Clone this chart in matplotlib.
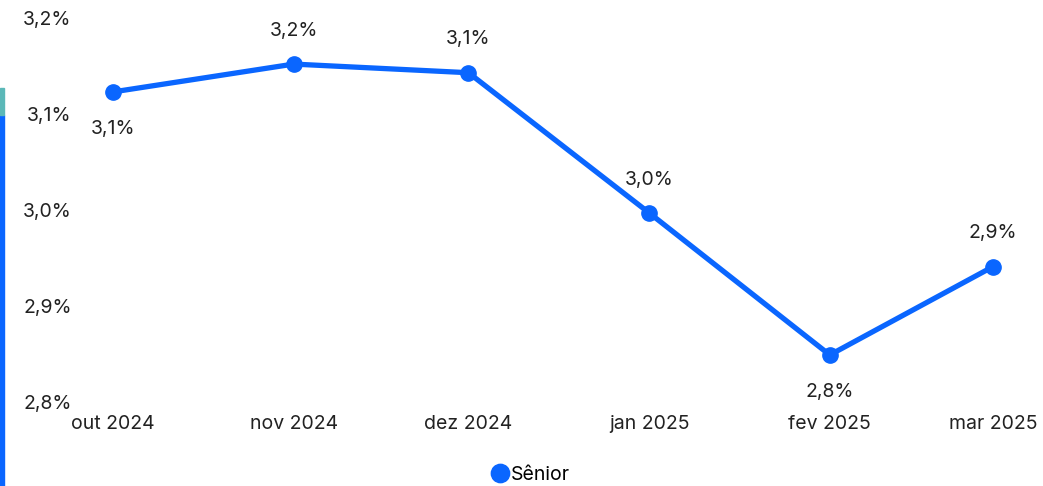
import matplotlib
matplotlib.use('Agg')
import matplotlib.pyplot as plt
import matplotlib.dates as mdates
from matplotlib.patches import Rectangle
from datetime import datetime, timedelta

datas = [datetime(2024, 10, 1), datetime(2024, 11, 1), datetime(2024, 12, 1),
         datetime(2025, 1, 1), datetime(2025, 2, 1), datetime(2025, 3, 1)]
meses = ['out 2024', 'nov 2024', 'dez 2024', 'jan 2025', 'fev 2025', 'mar 2025']
senior = [3.123, 3.152, 3.143, 2.997, 2.849, 2.941]
rotulos = ['3,1%', '3,2%', '3,1%', '3,0%', '2,8%', '2,9%']
acima = [False, True, True, True, False, True]
yticks = [2.8, 2.9, 3.0, 3.1, 3.2]
ylabels = ['2,8%', '2,9%', '3,0%', '3,1%', '3,2%']

plt.rcParams['font.family'] = ['Inter', 'DejaVu Sans']
azul = '#0A66FF'
fs = 14

W, H = 1043, 486
fig = plt.figure(figsize=(W / 100, H / 100), dpi=100)
ax = fig.add_axes([80 / W, (H - 402) / H, 950 / W, 384 / H])

ax.plot(datas, senior, color=azul, lw=3.8, marker='o', ms=11, solid_capstyle='round', label='Sênior', clip_on=False)
for d, v, t, up in zip(datas, senior, rotulos, acima):
    ax.annotate(t, (d, v), xytext=(0, 24 if up else -27), textcoords='offset points',
                ha='center', va='center', fontsize=fs, color='#222222')

ax.set_xlim(datas[0] - timedelta(days=5.66), datas[-1] + timedelta(days=6.35))
ax.set_ylim(2.8, 3.2)
ax.set_xticks(datas)
ax.set_xticklabels(meses, fontsize=fs, color='#222222')
ax.set_yticks(yticks)
ax.set_yticklabels(ylabels, fontsize=fs, color='#222222')
ax.tick_params(length=0, axis='y', pad=6)
ax.tick_params(length=0, axis='x', pad=9)
for s in ax.spines.values():
    s.set_visible(False)

leg = fig.legend(handles=ax.get_lines(), loc='center', bbox_to_anchor=(532 / W, 1 - 475 / H),
                 frameon=False, fontsize=fs, handlelength=0.55, handletextpad=0.3, markerscale=1.2)
for h in leg.legend_handles:
    h.set_linestyle('none')

fig.patches.append(Rectangle((0, 0), 4 / W, (H - 115) / H, transform=fig.transFigure, color='#0A66FF'))
fig.patches.append(Rectangle((0, (H - 115) / H), 4 / W, 27 / H, transform=fig.transFigure, color='#5BB8B8'))

fig.savefig('out.png', dpi=100)
